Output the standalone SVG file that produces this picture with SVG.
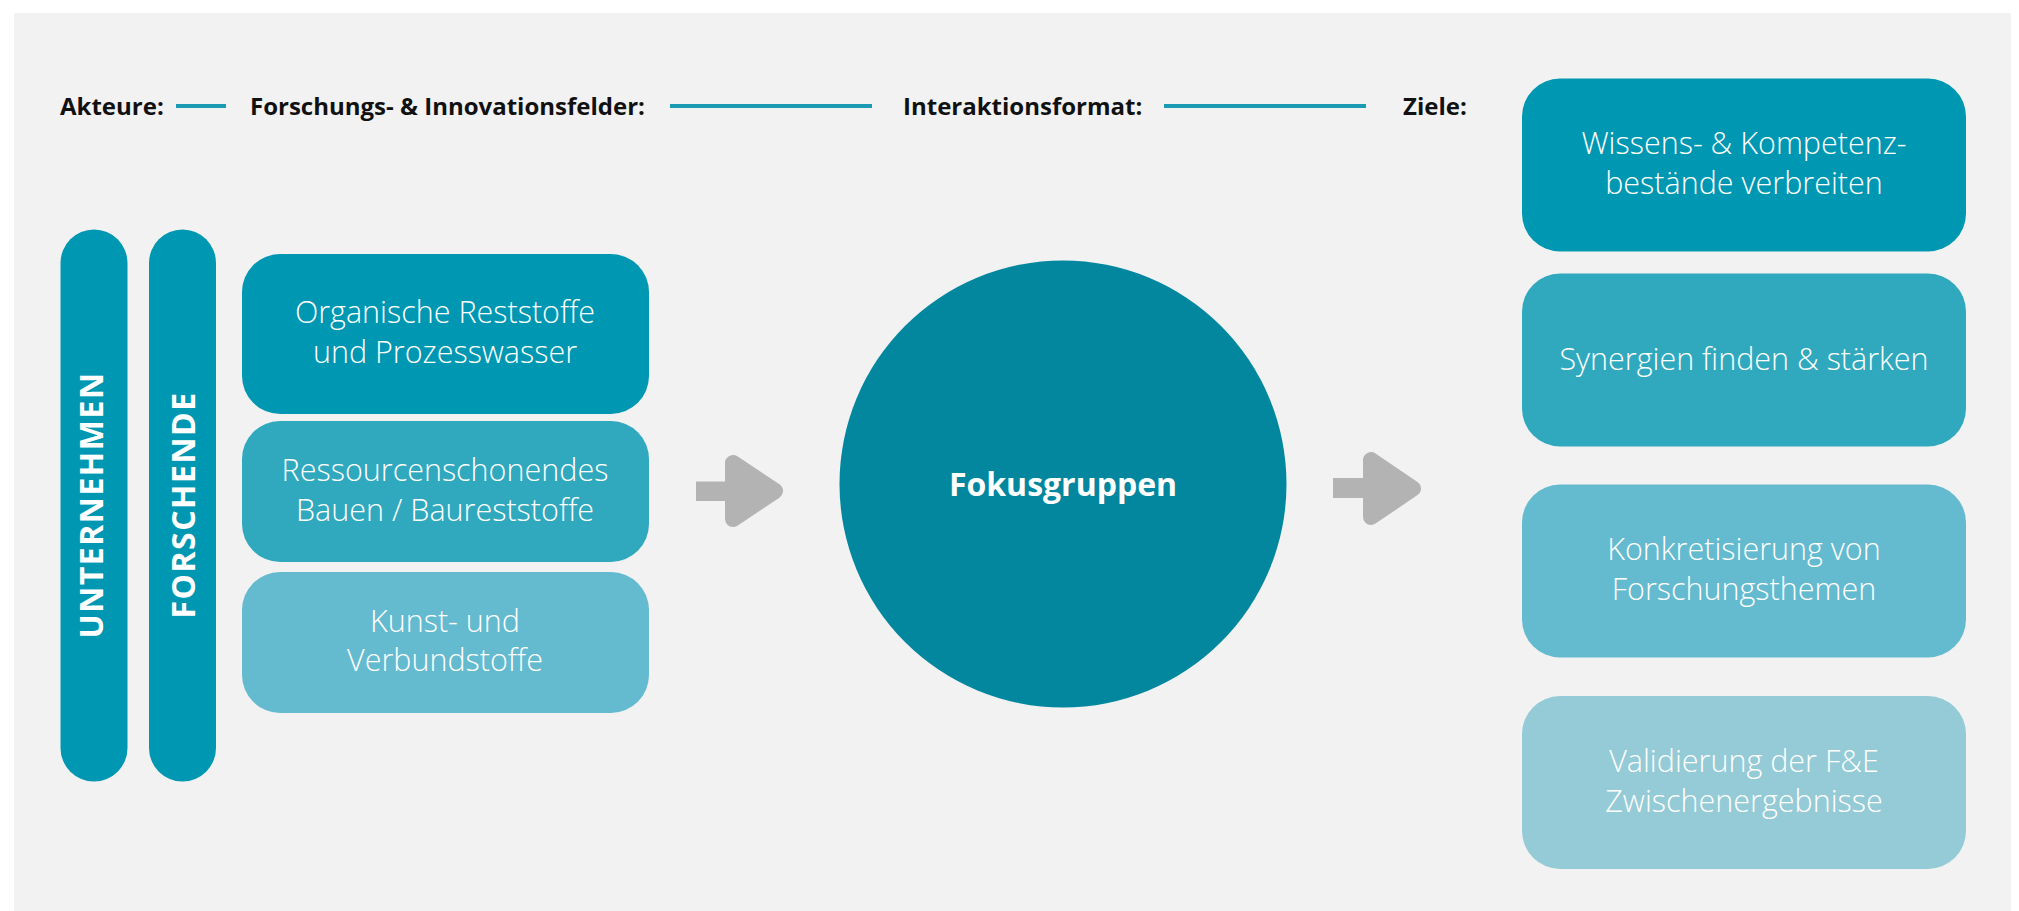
<svg xmlns="http://www.w3.org/2000/svg" width="2019" height="911" viewBox="0 0 2019 911">
<defs>
<style>
.hdr{font-family:"Open Sans","Liberation Sans",sans-serif;font-weight:700;font-size:24px;fill:#111111}
.lbl{font-family:"Open Sans","Liberation Sans",sans-serif;font-weight:350;font-size:30.5px;fill:#ffffff;text-anchor:middle}
.bar{font-family:"Open Sans","Liberation Sans",sans-serif;font-weight:700;font-size:32px;fill:#ffffff;text-anchor:middle;letter-spacing:1.5px}
.big{font-family:"Open Sans","Liberation Sans",sans-serif;font-weight:700;font-size:32px;fill:#ffffff;text-anchor:middle}
.c1{fill:#0097b2}.c2{fill:#30a9be}.c3{fill:#64bace}.c4{fill:#94cbd6}
.hline{stroke:#1b9ab3;stroke-width:4}
.arr{fill:#b3b3b3;stroke:#b3b3b3;stroke-width:16;stroke-linejoin:round}
</style>
</defs>
<rect x="14" y="13" width="1997" height="898" fill="#f2f2f2"/>

<g id="headers">
<text class="hdr" x="60" y="115">Akteure:</text>
<text class="hdr" x="250" y="115">Forschungs- &amp; Innovationsfelder:</text>
<text class="hdr" x="903" y="115">Interaktionsformat:</text>
<text class="hdr" x="1403" y="115">Ziele:</text>
</g>

<g id="connectors">
<line class="hline" x1="176" y1="106" x2="226" y2="106"/>
<line class="hline" x1="670" y1="106" x2="872" y2="106"/>
<line class="hline" x1="1164" y1="106" x2="1366" y2="106"/>
<g id="arrow-left">
<rect x="696" y="481.5" width="34" height="19.5" fill="#b3b3b3"/>
<polygon class="arr" points="733,463 733,519 775,491"/>
</g>
<g id="arrow-right">
<rect x="1333" y="478" width="34" height="20" fill="#b3b3b3"/>
<polygon class="arr" points="1371,460 1371,517 1413,488.5"/>
</g>
</g>

<g id="node-unternehmen">
<rect class="c1" x="60.5" y="229.5" width="67" height="552" rx="33.5"/>
<text class="bar" transform="translate(103,505) rotate(-90)" x="0" y="0">UNTERNEHMEN</text>
</g>
<g id="node-forschende">
<rect class="c1" x="149" y="229.5" width="67" height="552" rx="33.5"/>
<text class="bar" transform="translate(195,505) rotate(-90)" x="0" y="0">FORSCHENDE</text>
</g>

<g id="node-organische">
<rect class="c1" x="242" y="254" width="407" height="160" rx="38"/>
<text class="lbl" x="445" y="323">Organische Reststoffe</text>
<text class="lbl" x="445" y="362.5">und Prozesswasser</text>
</g>
<g id="node-bauen">
<rect class="c2" x="242" y="421" width="407" height="141" rx="38"/>
<text class="lbl" x="445" y="481">Ressourcenschonendes</text>
<text class="lbl" x="445" y="520.5">Bauen / Baureststoffe</text>
</g>
<g id="node-kunst">
<rect class="c3" x="242" y="572" width="407" height="141" rx="38"/>
<text class="lbl" x="445" y="631.5">Kunst- und</text>
<text class="lbl" x="445" y="670.5">Verbundstoffe</text>
</g>

<g id="node-fokus">
<circle cx="1063" cy="484" r="223.5" fill="#02879f"/>
<text class="big" x="1063" y="496">Fokusgruppen</text>
</g>

<g id="node-wissen">
<rect class="c1" x="1522" y="78.5" width="444" height="173" rx="38"/>
<text class="lbl" x="1744" y="154">Wissens- &amp; Kompetenz-</text>
<text class="lbl" x="1744" y="193.5">bestände verbreiten</text>
</g>
<g id="node-synergien">
<rect class="c2" x="1522" y="273.5" width="444" height="173" rx="38"/>
<text class="lbl" x="1744" y="370">Synergien finden &amp; stärken</text>
</g>
<g id="node-konkret">
<rect class="c3" x="1522" y="484.5" width="444" height="173" rx="38"/>
<text class="lbl" x="1744" y="560">Konkretisierung von</text>
<text class="lbl" x="1744" y="600">Forschungsthemen</text>
</g>
<g id="node-validierung">
<rect class="c4" x="1522" y="696" width="444" height="173" rx="38"/>
<text class="lbl" x="1744" y="771.5">Validierung der F&amp;E</text>
<text class="lbl" x="1744" y="811.5">Zwischenergebnisse</text>
</g>
</svg>
